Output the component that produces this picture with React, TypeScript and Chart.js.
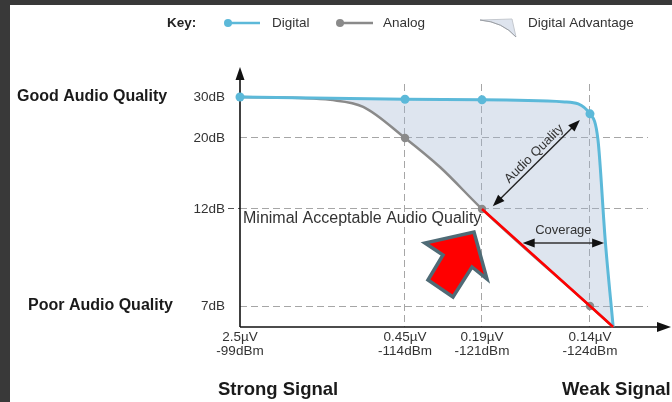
import React, { useEffect, useRef } from 'react';
import { Chart, registerables, LinearScale } from 'chart.js';

Chart.register(...registerables);

// ---------------- data ----------------
const xTickValues = [-99, -114, -121, -124];
const xTickVolts = ['2.5µV', '0.45µV', '0.19µV', '0.14µV'];
const xTickDbm = ['-99dBm', '-114dBm', '-121dBm', '-124dBm'];

const yTickValues = [30, 20, 12, 7];
const yTickLabels = ['30dB', '20dB', '12dB', '7dB'];

// Digital curve (dBm, dB)
const digitalX = [-99, -114, -121, -123.3, -124, -124.22, -124.42, -124.64];
const digitalY = [30, 29.45, 29.3, 28.8, 25.9, 19.8, 10.4, 5];
const digitalMarked = [true, true, true, false, true, false, false, false];

// Analog curve (dBm, dB)
const analogX = [-99, -104.45, -107.2, -110.2, -114, -117.2, -121, -124, -124.64];
const analogY = [30, 29.75, 29.3, 27.6, 20, 16.7, 12, 7, 5];
const analogMarked = [false, false, false, false, true, false, true, true, false];

// Red extension of analog below minimal acceptable quality
const redX = [-121, -124, -124.64];
const redY = [12, 7, 5];

const seriesLabels = ['Digital', 'Analog', 'Digital Advantage'];

// annotation anchors (data units)
const audioQualityFrom = [-121.3, 12.3];
const audioQualityTo = [-123.72, 24.4];
const coverageFrom = [-122.13, 10.25];
const coverageTo = [-124.39, 10.25];
const minimalLevel = 12;

// ---------------- scale configuration ----------------
const xBreakValues = [-99, -114, -121, -124, -125.6];
const xBreakFractions = [0, 0.4044, 0.5931, 0.8578, 1];
const yBreakValues = [5, 7, 12, 20, 30, 32];
const yBreakFractions = [0, 0.0864, 0.4856, 0.7778, 0.9465, 1];

const FONT = "'Liberation Sans', Arial, Helvetica, sans-serif";
const DIGITAL = '#5cb9d9';
const ANALOG = '#8a8a8a';
const RED = '#ff0000';
const FILL = 'rgba(160,180,210,0.35)';
const FILL_SOLID = '#dee4ee';
const GRID = '#a6a6a6';
const TEXT = '#333333';
const AXIS = '#111111';

function interp(from: number[], to: number[], v: number) {
  const n = from.length;
  const asc = from[n - 1] > from[0];
  let i = 0;
  while (i < n - 2 && (asc ? v > from[i + 1] : v < from[i + 1])) i++;
  const t = (v - from[i]) / (from[i + 1] - from[i]);
  return to[i] + t * (to[i + 1] - to[i]);
}

const BREAKS: any = {
  x: [xBreakValues, xBreakFractions],
  y: [yBreakValues, yBreakFractions],
};

class PiecewiseScale extends (LinearScale as any) {
  static id = 'piecewise';
  getPixelForValue(value: any) {
    if (value === null || value === undefined || Number.isNaN(+value)) return NaN;
    const [vals, fr] = BREAKS[(this as any).id];
    return (this as any).getPixelForDecimal(interp(vals, fr, +value));
  }
  getValueForPixel(pixel: number) {
    const [vals, fr] = BREAKS[(this as any).id];
    return interp(fr, vals, (this as any).getDecimalForPixel(pixel));
  }
}
Chart.register(PiecewiseScale as any);

function arrowHead(ctx: any, tx: number, ty: number, fx: number, fy: number, len: number, half: number) {
  const a = Math.atan2(ty - fy, tx - fx);
  const bx = tx - len * Math.cos(a);
  const by = ty - len * Math.sin(a);
  ctx.beginPath();
  ctx.moveTo(tx, ty);
  ctx.lineTo(bx + half * Math.sin(a), by - half * Math.cos(a));
  ctx.lineTo(bx - half * Math.sin(a), by + half * Math.cos(a));
  ctx.closePath();
  ctx.fill();
}

function doubleArrow(ctx: any, x1: number, y1: number, x2: number, y2: number, len: number, half: number) {
  const a = Math.atan2(y2 - y1, x2 - x1);
  const c = Math.cos(a), s = Math.sin(a);
  ctx.beginPath();
  ctx.moveTo(x1 + len * 0.8 * c, y1 + len * 0.8 * s);
  ctx.lineTo(x2 - len * 0.8 * c, y2 - len * 0.8 * s);
  ctx.stroke();
  arrowHead(ctx, x1, y1, x2, y2, len, half);
  arrowHead(ctx, x2, y2, x1, y1, len, half);
}

const decor = {
  id: 'decor',
  beforeDatasetsDraw(chart: any) {
    const { ctx, chartArea } = chart;
    const { left, right, top, bottom } = chartArea;
    ctx.save();
    ctx.strokeStyle = AXIS;
    ctx.fillStyle = AXIS;
    ctx.lineWidth = 1.6;
    ctx.beginPath();
    ctx.moveTo(left, bottom);
    ctx.lineTo(left, top - 8);
    ctx.stroke();
    arrowHead(ctx, left, top - 17, left, bottom, 13, 4.5);
    ctx.beginPath();
    ctx.moveTo(left, bottom);
    ctx.lineTo(right + 12, bottom);
    ctx.stroke();
    arrowHead(ctx, right + 23, bottom, left, bottom, 14, 5);
    ctx.restore();
  },
  afterDatasetsDraw(chart: any) {
    const { ctx, chartArea } = chart;
    const xs = chart.scales.x;
    const ys = chart.scales.y;
    const px = (v: number) => xs.getPixelForValue(v);
    const py = (v: number) => ys.getPixelForValue(v);
    ctx.save();

    // Minimal acceptable text
    ctx.font = `16px ${FONT}`;
    ctx.fillStyle = TEXT;
    ctx.textAlign = 'left';
    ctx.textBaseline = 'alphabetic';
    ctx.fillText('Minimal Acceptable Audio Quality', chartArea.left + 3, py(minimalLevel) + 14);

    // Audio quality double arrow
    ctx.strokeStyle = '#222';
    ctx.fillStyle = '#111';
    ctx.lineWidth = 1.4;
    const a1x = px(audioQualityFrom[0]), a1y = py(audioQualityFrom[1]);
    const a2x = px(audioQualityTo[0]), a2y = py(audioQualityTo[1]);
    doubleArrow(ctx, a1x, a1y, a2x, a2y, 12, 4.5);
    const ang = Math.atan2(a2y - a1y, a2x - a1x);
    const dx = Math.cos(ang), dy = Math.sin(ang);
    const mx = (a1x + a2x) / 2 + dx * 5 + dy * 8;
    const my = (a1y + a2y) / 2 + dy * 5 - dx * 8;
    ctx.save();
    ctx.translate(mx, my);
    ctx.rotate(ang);
    ctx.font = `13px ${FONT}`;
    ctx.fillStyle = TEXT;
    ctx.textAlign = 'center';
    ctx.textBaseline = 'middle';
    ctx.fillText('Audio Quality', 0, 0);
    ctx.restore();

    // Coverage double arrow
    const c1x = px(coverageFrom[0]), c1y = py(coverageFrom[1]);
    const c2x = px(coverageTo[0]), c2y = py(coverageTo[1]);
    ctx.strokeStyle = '#333';
    ctx.fillStyle = '#111';
    ctx.lineWidth = 1.4;
    doubleArrow(ctx, c1x, c1y, c2x, c2y, 12, 4.5);
    ctx.font = `13px ${FONT}`;
    ctx.fillStyle = TEXT;
    ctx.textAlign = 'center';
    ctx.textBaseline = 'middle';
    ctx.fillText('Coverage', (c1x + c2x) / 2, c1y - 13);

    // Red block arrow pointing at the minimal acceptable analog point
    const ax = px(redX[0]);
    const ay = py(redY[0]);
    const shape = [[-8, 23], [5, 70], [-10, 58], [-29, 88], [-54, 71], [-39, 46], [-57, 34]];
    ctx.beginPath();
    shape.forEach(([ox, oy], i) => (i === 0 ? ctx.moveTo(ax + ox, ay + oy) : ctx.lineTo(ax + ox, ay + oy)));
    ctx.closePath();
    ctx.fillStyle = RED;
    ctx.fill();
    ctx.lineJoin = 'miter';
    ctx.strokeStyle = '#4f6b76';
    ctx.lineWidth = 3.5;
    ctx.stroke();

    // Left quality labels
    ctx.font = `bold 16px ${FONT}`;
    ctx.fillStyle = '#1a1a1a';
    ctx.textAlign = 'left';
    ctx.textBaseline = 'middle';
    ctx.fillText('Good Audio Quality', 7, py(yTickValues[0]));
    ctx.fillText('Poor Audio Quality', 18, py(yTickValues[3]));

    // Bottom signal labels
    ctx.font = `bold 18.5px ${FONT}`;
    ctx.textBaseline = 'alphabetic';
    ctx.fillText('Strong Signal', chartArea.left - 22, 390);
    ctx.fillText('Weak Signal', px(xTickValues[3]) - 28, 390);

    // Legend
    const ly = 18;
    ctx.font = `bold 13.5px ${FONT}`;
    ctx.fillStyle = '#222';
    ctx.textBaseline = 'middle';
    ctx.fillText('Key:', 157, ly);

    ctx.lineWidth = 2.5;
    ctx.strokeStyle = DIGITAL;
    ctx.beginPath(); ctx.moveTo(218, ly); ctx.lineTo(250, ly); ctx.stroke();
    ctx.fillStyle = DIGITAL;
    ctx.beginPath(); ctx.arc(218, ly, 4, 0, Math.PI * 2); ctx.fill();

    ctx.strokeStyle = ANALOG;
    ctx.beginPath(); ctx.moveTo(330, ly); ctx.lineTo(363, ly); ctx.stroke();
    ctx.fillStyle = ANALOG;
    ctx.beginPath(); ctx.arc(330, ly, 4, 0, Math.PI * 2); ctx.fill();

    ctx.beginPath();
    ctx.moveTo(470, 15);
    ctx.lineTo(502, 14);
    ctx.lineTo(506, 32);
    ctx.quadraticCurveTo(493, 17, 470, 15);
    ctx.closePath();
    ctx.fillStyle = FILL_SOLID;
    ctx.fill();
    ctx.strokeStyle = '#c4c8ce';
    ctx.lineWidth = 1;
    ctx.stroke();
    ctx.strokeStyle = '#9a9ea4';
    ctx.beginPath();
    ctx.moveTo(470, 15);
    ctx.quadraticCurveTo(493, 17, 506, 32);
    ctx.stroke();

    ctx.font = `13.5px ${FONT}`;
    ctx.fillStyle = TEXT;
    ctx.fillText(seriesLabels[0], 262, ly);
    ctx.fillText(seriesLabels[1], 373, ly);
    ctx.fillText(seriesLabels[2], 518, ly);

    ctx.restore();
  },
};

export default function App() {
  const ref = useRef<HTMLCanvasElement>(null);
  useEffect(() => {
    const canvas = ref.current;
    if (!canvas) return;
    const tickFont = { family: FONT, size: 13.5, lineHeight: 1.0 };
    const chart = new Chart(canvas, {
      type: 'line',
      data: {
        datasets: [
          {
            label: seriesLabels[0],
            data: digitalX.map((x, i) => ({ x, y: digitalY[i] })),
            borderColor: DIGITAL,
            backgroundColor: FILL,
            borderWidth: 3,
            pointRadius: digitalMarked.map((m) => (m ? 4.5 : 0)),
            pointBackgroundColor: DIGITAL,
            pointBorderWidth: 0,
            cubicInterpolationMode: 'monotone',
            fill: { target: 1, above: FILL, below: FILL },
            order: 1,
            clip: false,
          },
          {
            label: seriesLabels[1],
            data: analogX.map((x, i) => ({ x, y: analogY[i] })),
            borderColor: ANALOG,
            backgroundColor: ANALOG,
            borderWidth: 2.5,
            pointRadius: analogMarked.map((m) => (m ? 4.2 : 0)),
            pointBackgroundColor: ANALOG,
            pointBorderWidth: 0,
            cubicInterpolationMode: 'monotone',
            fill: false,
            order: 2,
            clip: false,
          },
          {
            label: 'Analog below minimum',
            data: redX.map((x, i) => ({ x, y: redY[i] })),
            borderColor: RED,
            backgroundColor: RED,
            borderWidth: 2.5,
            pointRadius: 0,
            tension: 0,
            fill: false,
            order: 0,
            clip: false,
          },
        ],
      } as any,
      options: {
        animation: false,
        responsive: false,
        events: [],
        layout: { padding: { top: 79, right: 24, left: 0, bottom: 0 } },
        plugins: {
          legend: { display: false },
          tooltip: { enabled: false },
          filler: { drawTime: 'beforeDatasetsDraw' },
        },
        scales: {
          x: {
            type: 'piecewise',
            min: xBreakValues[xBreakValues.length - 1],
            max: xBreakValues[0],
            afterBuildTicks: (s: any) => {
              s.ticks = xTickValues.map((v) => ({ value: v }));
            },
            afterFit: (s: any) => {
              s.height = 75;
            },
            grid: {
              color: (c: any) => (c.tick && c.tick.value === xTickValues[0] ? 'rgba(0,0,0,0)' : GRID),
              lineWidth: 1,
              drawTicks: false,
            },
            border: { display: false, dash: [7, 4] },
            ticks: {
              autoSkip: false,
              maxRotation: 0,
              padding: 4,
              color: TEXT,
              font: tickFont,
              callback: (_v: any, i: number) => [xTickVolts[i], xTickDbm[i]],
            },
          },
          y: {
            type: 'piecewise',
            min: yBreakValues[0],
            max: yBreakValues[yBreakValues.length - 1],
            afterBuildTicks: (s: any) => {
              s.ticks = yTickValues.map((v) => ({ value: v }));
            },
            afterFit: (s: any) => {
              s.width = 230;
            },
            grid: {
              color: (c: any) => (c.tick && c.tick.value === yTickValues[0] ? 'rgba(0,0,0,0)' : GRID),
              lineWidth: 1,
              drawTicks: true,
              tickLength: 12,
              tickWidth: 1,
              tickColor: (c: any) => (c.tick && c.tick.value === minimalLevel ? '#555' : 'rgba(0,0,0,0)'),
              tickBorderDash: [6, 4],
            },
            border: { display: false, dash: [7, 4] },
            ticks: {
              padding: 3,
              color: TEXT,
              font: tickFont,
              callback: (_v: any, i: number) => yTickLabels[i],
            },
          },
        },
      } as any,
      plugins: [decor],
    });
    return () => chart.destroy();
  }, []);

  return (
    <div style={{ position: 'fixed', left: 0, top: 0, width: 672, height: 402, background: '#393939', overflow: 'hidden' }}>
      <div style={{ position: 'absolute', left: 10, top: 5, width: 662, height: 397, background: '#ffffff' }}>
        <canvas ref={ref} width={662} height={397} style={{ display: 'block', width: 662, height: 397 }} />
      </div>
    </div>
  );
}
